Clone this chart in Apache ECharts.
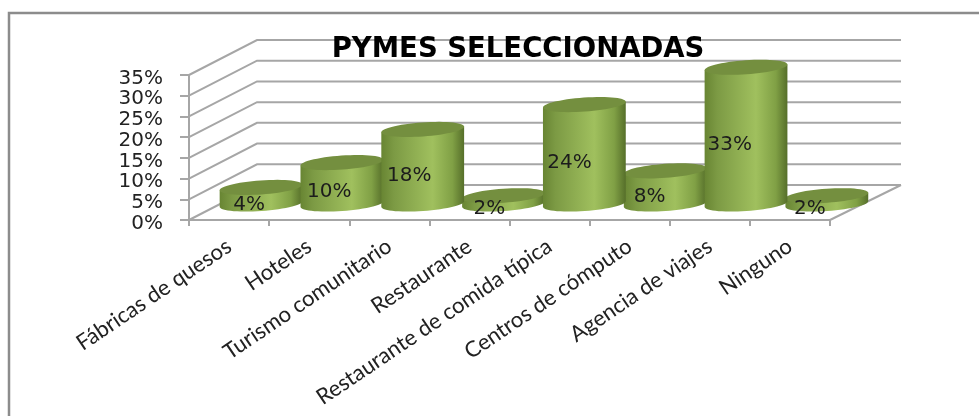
<!DOCTYPE html>
<html><head><meta charset="utf-8">
<style>html,body{margin:0;padding:0;background:#fff;overflow:hidden}#c{width:979px;height:416px}</style>
<script src="https://cdn.jsdelivr.net/npm/echarts@6/dist/echarts.min.js"></script>
</head><body><div id="c"></div>
<script>
const titleText = 'PYMES SELECCIONADAS';
const categories = ['Fábricas de quesos','Hoteles','Turismo comunitario','Restaurante','Restaurante de comida típica','Centros de cómputo','Agencia de viajes','Ninguno'];
const values = [4,10,18,2,24,8,33,2];
const yTicks = [0,5,10,15,20,25,30,35];

const GRAY = '#a6a6a6';
function ellipsePts(cx, cy, rx, ry, tilt, from, to, n) {
  const pts = [], c = Math.cos(tilt), s = Math.sin(tilt);
  for (let i = 0; i <= n; i++) {
    const t = from + (to - from) * i / n;
    const ex = rx * Math.cos(t), ey = ry * Math.sin(t);
    pts.push([cx + ex * c - ey * s, cy + ex * s + ey * c]);
  }
  return pts;
}
function renderWall(params, api) {
  const cs = params.coordSys;
  const v = api.value(0);
  const y = api.coord([0, v])[1];
  const fx = cs.x, rx = cs.x + cs.width;
  const style = {stroke: GRAY, lineWidth: 2, fill: null};
  const children = [{type:'polyline', shape:{points:[[fx,y],[fx+68,y-35],[rx+71,y-35]]}, style}];
  if (v === 0) children.push({type:'line', shape:{x1:rx,y1:y,x2:rx+71,y2:y-35}, style});
  return {type:'group', children};
}
function renderCyl(params, api) {
  const i = api.value(0), v = api.value(1);
  const base = api.coord([i, 0]), top = api.coord([i, v]), mid = api.coord([i, v / 2]);
  const cx = base[0] + 32 + i * 0.7;
  const by = base[1] - 16, ty = top[1] - 16;
  const rx = 41.5, ry = 7, tilt = -0.07;
  const bottomArc = ellipsePts(cx, by, rx, ry, tilt, 0, Math.PI, 30);
  const topEnds = ellipsePts(cx, ty, rx, ry, tilt, Math.PI, Math.PI * 2, 1);
  const z = v * 2 + 1;
  return {type:'group', children:[
    {type:'polygon', z2:z, shape:{points: bottomArc.concat(topEnds)},
     style:{fill:{type:'linear',x:0,y:0,x2:1,y2:0,colorStops:[
       {offset:0,color:'#688533'},{offset:0.15,color:'#7c9a44'},{offset:0.62,color:'#a0c05e'},{offset:0.86,color:'#80a045'},{offset:1,color:'#566f2a'}]}}},
    {type:'polygon', z2:z + 1, shape:{points: ellipsePts(cx, ty, rx, ry, tilt, 0, Math.PI * 2, 60)}, style:{fill:'#748f3f'}},
    {type:'text', z2:500, style:{text: v + '%', x: base[0] + 20, y: mid[1] - 7, align:'center', verticalAlign:'middle',
      fontFamily:'DejaVu Sans', fontSize:20, fill:'#1c1c1c'}}
  ]};
}
const chart = echarts.init(document.getElementById('c'), null, {renderer:'canvas'});
chart.setOption({
  animation:false,
  backgroundColor:'#fff',
  title:{text:titleText, left:513, top:31, textAlign:'center', textStyle:{fontFamily:'DejaVu Sans', fontWeight:'bold', fontSize:27.5, color:'#000'}, z:10},
  graphic:[{type:'rect', shape:{x:9,y:13,width:1000,height:440}, style:{fill:null,stroke:'#8c8c8c',lineWidth:2.5}, silent:true}],
  grid:{left:189,right:149,top:75,bottom:196,containLabel:false},
  xAxis:{type:'category',data:categories,boundaryGap:true,
    axisLine:{show:true,lineStyle:{color:GRAY,width:2}},
    axisTick:{show:true,length:6,alignWithLabel:false,lineStyle:{color:GRAY,width:2}},
    axisLabel:{interval:0,rotate:34,fontFamily:'Lato',fontSize:22,color:'#222',margin:24},
    splitLine:{show:false}},
  yAxis:{type:'value',min:0,max:35,interval:5,
    axisLine:{show:true,lineStyle:{color:GRAY,width:2}},
    axisTick:{show:true,length:9,lineStyle:{color:GRAY,width:2}},
    axisLabel:{formatter:'{value}%',fontFamily:'DejaVu Sans',fontSize:20,color:'#222',margin:26,verticalAlign:'top',lineHeight:7},
    splitLine:{show:false}},
  series:[
    {type:'custom',renderItem:renderWall,coordinateSystem:'cartesian2d',data:yTicks.map(t=>[t]),encode:{y:0},z:1,silent:true},
    {type:'custom',renderItem:renderCyl,coordinateSystem:'cartesian2d',data:values.map((v,i)=>[i,v]),encode:{x:0,y:1},z:3,silent:true}
  ]
});
</script></body></html>
